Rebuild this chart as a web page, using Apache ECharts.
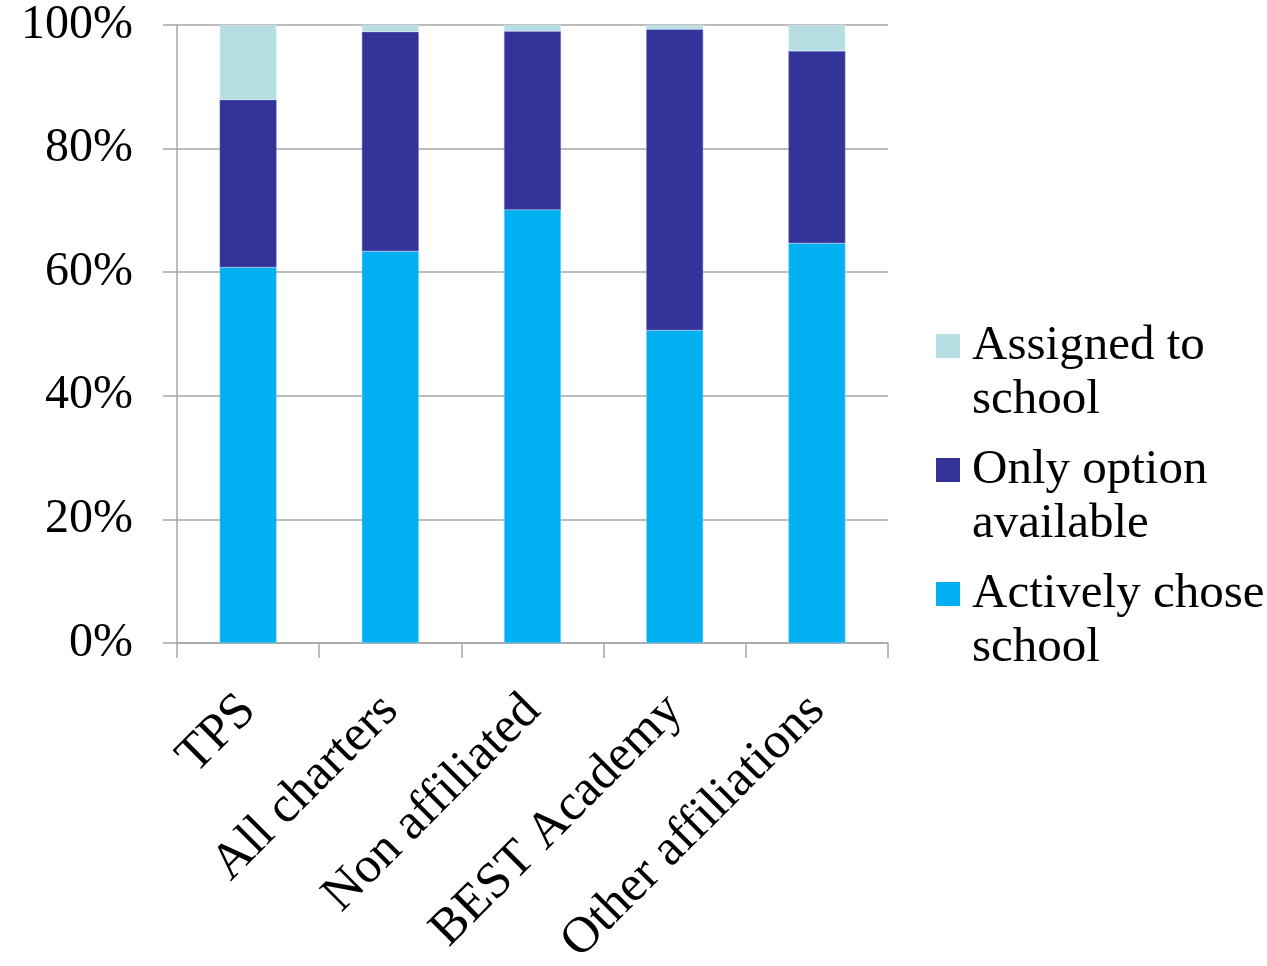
<!DOCTYPE html>
<html>
<head>
<meta charset="utf-8">
<script src="https://cdn.jsdelivr.net/npm/echarts@6/dist/echarts.min.js"></script>
<style>
  html, body { margin: 0; padding: 0; background: #fff; }
  #chart { width: 1267px; height: 966px; }
</style>
</head>
<body>
<div id="chart"></div>
<script>
const categories = ['TPS', 'All charters', 'Non affiliated', 'BEST Academy', 'Other affiliations']
const activelyChose = [60.8, 63.4, 70.1, 50.6, 64.7]
const onlyOption = [27.1, 35.5, 28.9, 48.7, 31.1]
const assigned = [12.1, 1.1, 1.0, 0.7, 4.2]
const yTicks = [0, 20, 40, 60, 80, 100]

const seriesNames = ['Actively chose school', 'Only option available', 'Assigned to school']
const legendText = {
  'Assigned to school': 'Assigned to\nschool',
  'Only option available': 'Only option\navailable',
  'Actively chose school': 'Actively chose\nschool'
}

const font = 'Liberation Serif'
const gridColor = '#a6a6a6'

const chart = echarts.init(document.getElementById('chart'))

// square sits at the top of a taller icon box so it lines up with the first text line
const legendIcon = 'path://M0,0H24V24H0Z M0,78L24,78'

const option = {
  animation: false,
  grid: { left: 177, right: 379, top: 25, bottom: 323, containLabel: false, outerBoundsMode: 'none' },
  legend: {
    orient: 'vertical',
    left: 931,
    top: 314,
    itemWidth: 24,
    itemHeight: 78,
    itemGap: 16,
    icon: legendIcon,
    itemStyle: { borderWidth: 0 },
    data: ['Assigned to school', 'Only option available', 'Actively chose school'],
    formatter: (name) => legendText[name],
    textStyle: {
      fontFamily: font,
      fontSize: 49,
      color: '#000',
      lineHeight: 54,
      padding: [0, 0, 0, 7]
    }
  },
  xAxis: {
    type: 'category',
    data: categories,
    axisLine: { lineStyle: { color: gridColor, width: 1.5 } },
    axisTick: { show: true, length: 15, lineStyle: { color: gridColor, width: 1.5 } },
    axisLabel: {
      rotate: 45,
      margin: 60,
      color: '#000',
      fontFamily: font,
      fontSize: 51
    }
  },
  yAxis: {
    type: 'value',
    min: 0,
    max: 100,
    interval: 20,
    axisLine: { show: true, lineStyle: { color: gridColor, width: 1.5 } },
    axisTick: { show: true, length: 14, lineStyle: { color: gridColor, width: 1.5 } },
    splitLine: { lineStyle: { color: gridColor, width: 1.5 } },
    axisLabel: {
      margin: 44,
      color: '#000',
      fontFamily: font,
      fontSize: 48,
      formatter: (v) => yTicks.includes(v) ? v + '%' : ''
    }
  },
  series: [
    {
      name: seriesNames[0],
      type: 'bar',
      stack: 'total',
      barWidth: '40%',
      data: activelyChose,
      itemStyle: { color: '#00b0f0', borderColor: '#7fd7f7', borderWidth: 0.5 }
    },
    {
      name: seriesNames[1],
      type: 'bar',
      stack: 'total',
      data: onlyOption,
      itemStyle: { color: '#333399', borderColor: '#7d7dc4', borderWidth: 0.5 }
    },
    {
      name: seriesNames[2],
      type: 'bar',
      stack: 'total',
      data: assigned,
      itemStyle: { color: '#b7dfe3', borderColor: '#d8eff1', borderWidth: 0.5 }
    }
  ]
}

chart.setOption(option)
</script>
</body>
</html>
